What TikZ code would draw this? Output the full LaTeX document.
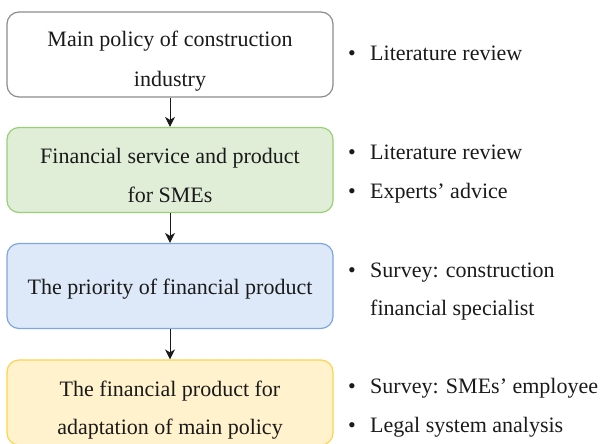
\documentclass[tikz,border=0pt]{standalone}
\usepackage{fontspec}
\setmainfont{Liberation Serif}
\usetikzlibrary{arrows.meta}
\definecolor{txt}{HTML}{1A1A1A}
\definecolor{grayB}{HTML}{8C8C8C}
\definecolor{greenB}{HTML}{97D077}
\definecolor{greenF}{HTML}{E0EED8}
\definecolor{blueB}{HTML}{7EA6E0}
\definecolor{blueF}{HTML}{DDE9F8}
\definecolor{yellowB}{HTML}{FFD34D}
\definecolor{yellowF}{HTML}{FFF2CC}
\tikzset{
  box/.style={draw, rounded corners=12pt, line width=1.2pt, minimum width=326pt, minimum height=85pt, inner sep=0pt},
  txtline/.style={anchor=base, inner sep=0pt, text=txt, font=\fontsize{22}{26}\selectfont},
  item/.style={anchor=base west, inner sep=0pt, text=txt, font=\fontsize{22}{26}\selectfont},
  bul/.style={anchor=base, inner sep=0pt, text=txt, font=\fontsize{22}{26}\selectfont},
  arr/.style={draw=txt, line width=0.9pt, -{Stealth[length=10pt,width=10pt,inset=3pt]}}
}
\begin{document}
\begin{tikzpicture}[x=1pt,y=-1pt]
\useasboundingbox (0,0) rectangle (602,444);
\clip (0,0) rectangle (602,444);
% boxes
\node[box, draw=grayB, fill=white] (b1) at (170,54.5) {};
\node[box, draw=greenB, fill=greenF] (b2) at (170,170) {};
\node[box, draw=blueB, fill=blueF] (b3) at (170,286) {};
\node[box, draw=yellowB, fill=yellowF] (b4) at (170,402.5) {};
% box texts
\node[txtline] (t1a) at (170,47) {Main policy of construction};
\node[txtline] (t1b) at (170,86) {industry};
\node[txtline] (t2a) at (170,163) {Financial service and product};
\node[txtline] (t2b) at (170,202) {for SMEs};
\node[txtline] (t3a) at (170,294) {The priority of financial product};
\node[txtline] (t4a) at (170,396) {The financial product for};
\node[txtline] (t4b) at (170,434) {adaptation of main policy};
% arrows
\draw[arr] (b1) -- (b2);
\draw[arr] (b2) -- (b3);
\draw[arr] (b3) -- (b4);
% bullets
\node[bul] (p1) at (352,61) {•};
\node[item] (i1) at (370,61) {Literature review};
\node[bul] (p2) at (352,159) {•};
\node[item] (i2) at (370,159) {Literature review};
\node[bul] (p3) at (352,198) {•};
\node[item] (i3) at (370,198) {Experts’ advice};
\node[bul] (p4) at (352,277) {•};
\node[item] (i4) at (370,277) {Survey: construction};
\node[item] (i5) at (370,315) {financial specialist};
\node[bul] (p5) at (352,393) {•};
\node[item] (i6) at (370,393) {Survey: SMEs’ employee};
\node[bul] (p6) at (352,432) {•};
\node[item] (i7) at (370,432) {Legal system analysis};
\end{tikzpicture}
\end{document}
